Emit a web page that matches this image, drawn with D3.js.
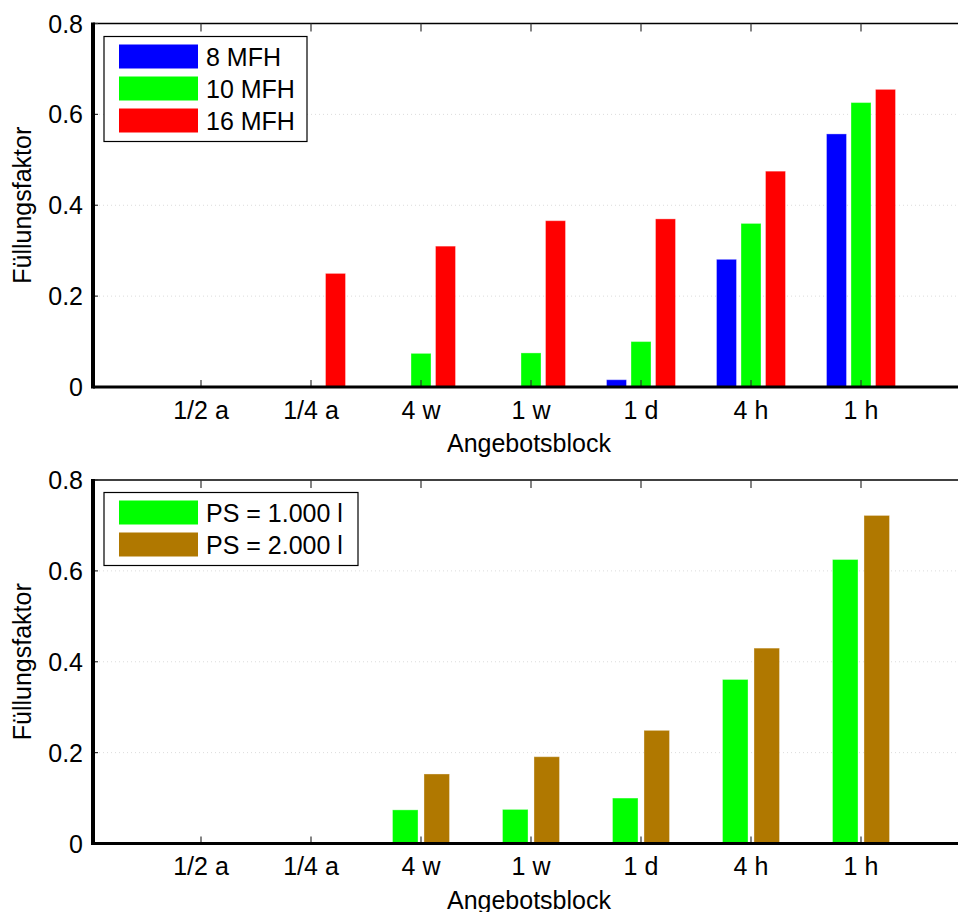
<!DOCTYPE html>
<html>
<head>
<meta charset="utf-8">
<script src="https://cdn.jsdelivr.net/npm/d3@7/dist/d3.min.js"></script>
<style>
  html, body { margin: 0; padding: 0; background: #fff; }
  svg { display: block; font-family: "Liberation Sans", Arial, sans-serif; }
</style>
</head>
<body>
<svg id="chart" width="958" height="912"></svg>
<script>
// ---- Data ----
const categories = ["1/2 a", "1/4 a", "4 w", "1 w", "1 d", "4 h", "1 h"];
const mfh8  = [0, 0, 0, 0, 0.016, 0.281, 0.557];
const mfh10 = [0, 0, 0.074, 0.075, 0.100, 0.360, 0.626];
const mfh16 = [0, 0.250, 0.310, 0.366, 0.370, 0.475, 0.655];
const ps1000 = [0, 0, 0.074, 0.075, 0.100, 0.361, 0.625];
const ps2000 = [0, 0, 0.153, 0.191, 0.249, 0.430, 0.722];
const yTicks = [0, 0.2, 0.4, 0.6, 0.8];
const topSeries = ["8 MFH", "10 MFH", "16 MFH"];
const bottomSeries = ["PS = 1.000 l", "PS = 2.000 l"];
const xTitle = "Angebotsblock";
const yTitle = "Füllungsfaktor";

const svg = d3.select("#chart");
const FONT = 25;

function panel(cfg) {
  const g = svg.append("g");
  const x = d3.scaleLinear().domain([0, categories.length + 1]).range([91, 971]);
  const y = d3.scaleLinear().domain([0, 0.8]).range([cfg.y0, cfg.y1]);
  const sub = d3.scaleBand().domain(cfg.series.map(s => s.name))
    .range([-cfg.groupW / 2, cfg.groupW / 2]).paddingInner(cfg.pad);
  const left = 93, right = 958;

  // gridlines
  g.selectAll("line.grid").data(yTicks.filter(t => t > 0 && t < 0.8)).enter()
    .append("line")
    .attr("x1", left + 2).attr("x2", right)
    .attr("y1", d => y(d)).attr("y2", d => y(d))
    .attr("stroke", "#dcdcdc").attr("stroke-width", 1)
    .attr("stroke-dasharray", "1,3");

  // bars
  cfg.series.forEach(s => {
    g.selectAll(null).data(s.values.map((v, i) => ({ v, i })).filter(d => d.v > 0))
      .enter().append("rect")
      .attr("x", d => x(d.i + 1) + sub(s.name))
      .attr("width", sub.bandwidth())
      .attr("y", d => y(d.v))
      .attr("height", d => y(0) - y(d.v))
      .attr("fill", s.color)
      .attr("stroke", "#ffffff").attr("stroke-opacity", 0.35).attr("stroke-width", 1);
  });

  // top axis line
  g.append("line").attr("x1", left).attr("x2", right)
    .attr("y1", y(0.8)).attr("y2", y(0.8))
    .attr("stroke", "#000").attr("stroke-width", 1.6);

  // x ticks (bottom, pointing up; top, pointing down)
  categories.forEach((c, i) => {
    g.append("line").attr("x1", x(i + 1)).attr("x2", x(i + 1))
      .attr("y1", y(0)).attr("y2", y(0) - 7)
      .attr("stroke", "#333").attr("stroke-width", 1.2);
    g.append("line").attr("x1", x(i + 1)).attr("x2", x(i + 1))
      .attr("y1", y(0.8)).attr("y2", y(0.8) + 8)
      .attr("stroke", "#333").attr("stroke-width", 1.2);
    g.append("text").attr("x", x(i + 1)).attr("y", y(0) + 31.5)
      .attr("text-anchor", "middle").attr("font-size", FONT)
      .attr("fill", "#000").text(c);
  });

  // y ticks
  yTicks.forEach(t => {
    g.append("line").attr("x1", left).attr("x2", left + 5)
      .attr("y1", y(t)).attr("y2", y(t))
      .attr("stroke", "#333").attr("stroke-width", 1.2);
    g.append("text").attr("x", 83).attr("y", y(t) + 9)
      .attr("text-anchor", "end").attr("font-size", FONT)
      .attr("fill", "#000").text(t === 0 ? "0" : t.toFixed(1));
  });

  // bottom axis & left axis (thick)
  g.append("line").attr("x1", left).attr("x2", right)
    .attr("y1", y(0)).attr("y2", y(0))
    .attr("stroke", "#000").attr("stroke-width", 3);
  g.append("line").attr("x1", left).attr("x2", left)
    .attr("y1", y(0.8) - 1).attr("y2", y(0) + 1.5)
    .attr("stroke", "#000").attr("stroke-width", 4);

  // axis titles
  g.append("text").attr("x", 529).attr("y", y(0) + 65)
    .attr("text-anchor", "middle").attr("font-size", FONT).attr("fill", "#000")
    .text(xTitle);
  g.append("text")
    .attr("transform", `translate(31,${(y(0) + y(0.8)) / 2}) rotate(-90)`)
    .attr("text-anchor", "middle").attr("font-size", FONT).attr("fill", "#000")
    .text(yTitle);

  // legend
  const lg = g.append("g");
  const lx = 104, ly = y(0.8) + cfg.legendTop;
  lg.append("rect").attr("x", lx).attr("y", ly)
    .attr("width", cfg.legendW).attr("height", cfg.series.length * 32 + 9)
    .attr("fill", "#fff").attr("stroke", "#000").attr("stroke-width", 1.2);
  cfg.series.forEach((s, i) => {
    lg.append("rect").attr("x", lx + 15).attr("y", ly + 8 + i * 32)
      .attr("width", 79).attr("height", 24).attr("fill", s.color);
    lg.append("text").attr("x", lx + 102).attr("y", ly + 8 + i * 32 + 21)
      .attr("font-size", FONT).attr("fill", "#000").text(s.name);
  });
}

panel({
  y0: 387, y1: 23.5, groupW: 69, pad: 0.184, legendTop: 13, legendW: 203,
  series: [
    { name: topSeries[0], values: mfh8, color: "#0000ff" },
    { name: topSeries[1], values: mfh10, color: "#00ff00" },
    { name: topSeries[2], values: mfh16, color: "#ff0000" }
  ]
});

panel({
  y0: 843.5, y1: 480, groupW: 57, pad: 0.19, legendTop: 12.5, legendW: 254,
  series: [
    { name: bottomSeries[0], values: ps1000, color: "#00ff00" },
    { name: bottomSeries[1], values: ps2000, color: "#b07800" }
  ]
});
</script>
</body>
</html>
